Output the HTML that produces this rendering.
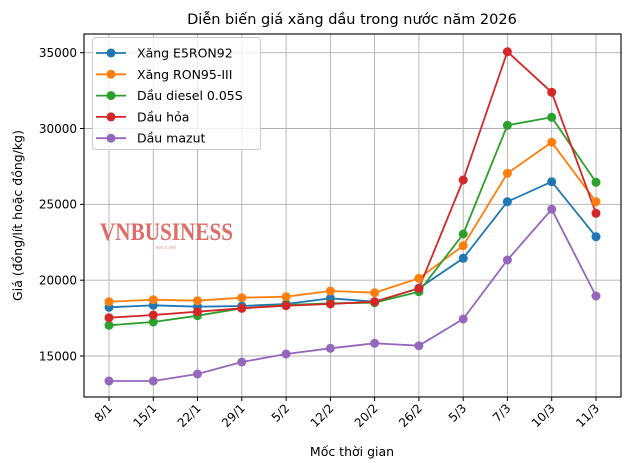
<!DOCTYPE html>
<html><head><meta charset="utf-8"><style>
body{margin:0;background:#fff;}
svg{display:block;font-family:"DejaVu Sans","Liberation Sans",sans-serif;}
</style></head><body>
<svg width="630" height="470" viewBox="0 0 630 470" xmlns="http://www.w3.org/2000/svg">
<rect width="630" height="470" fill="#fff"/>
<g stroke="#b0b0b0" stroke-width="0.9">
<line x1="109" y1="34" x2="109" y2="397"/><line x1="153.3" y1="34" x2="153.3" y2="397"/><line x1="197.5" y1="34" x2="197.5" y2="397"/><line x1="241.8" y1="34" x2="241.8" y2="397"/><line x1="286.1" y1="34" x2="286.1" y2="397"/><line x1="330.4" y1="34" x2="330.4" y2="397"/><line x1="374.6" y1="34" x2="374.6" y2="397"/><line x1="418.9" y1="34" x2="418.9" y2="397"/><line x1="463.2" y1="34" x2="463.2" y2="397"/><line x1="507.4" y1="34" x2="507.4" y2="397"/><line x1="551.7" y1="34" x2="551.7" y2="397"/><line x1="596" y1="34" x2="596" y2="397"/>
<line x1="84" y1="356" x2="621" y2="356"/><line x1="84" y1="280.2" x2="621" y2="280.2"/><line x1="84" y1="204.3" x2="621" y2="204.3"/><line x1="84" y1="128.5" x2="621" y2="128.5"/><line x1="84" y1="52.7" x2="621" y2="52.7"/>
</g>
<text x="100" y="240" font-family="Liberation Serif,serif" font-weight="bold" font-size="25" fill="#d9534f" opacity="0.85" textLength="133" lengthAdjust="spacingAndGlyphs">VNBUSINESS</text>
<text x="166" y="249" font-family="Liberation Serif,serif" font-size="4" fill="#d9534f" text-anchor="middle" opacity="0.7">SINCE 1993</text>
<g fill="none" stroke-width="1.8">
<polyline stroke="#1f77b4" points="109,307.3 153.3,305.3 197.5,306.7 241.8,306 286.1,304 330.4,298.3 374.6,301.7 418.9,288.3 463.2,258.3 507.4,201.7 551.7,181.7 596,236.7"/>
<polyline stroke="#ff7f0e" points="109,301.7 153.3,299.7 197.5,300.7 241.8,297.7 286.1,296.7 330.4,291 374.6,292.7 418.9,278.3 463.2,245.7 507.4,173.3 551.7,142.3 596,201.7"/>
<polyline stroke="#2ca02c" points="109,325.3 153.3,322 197.5,315.7 241.8,308.3 286.1,305 330.4,303.3 374.6,302.7 418.9,291.7 463.2,234 507.4,125.3 551.7,117.3 596,182.3"/>
<polyline stroke="#d62728" points="109,317.7 153.3,315 197.5,311.7 241.8,308.3 286.1,305.7 330.4,304 374.6,301.7 418.9,288.3 463.2,180 507.4,51.7 551.7,92.3 596,213.3"/>
<polyline stroke="#9467bd" points="109,381 153.3,381 197.5,374 241.8,362 286.1,354 330.4,348.3 374.6,343.3 418.9,345.7 463.2,319 507.4,260 551.7,209.3 596,296"/>
</g>
<g fill="#1f77b4"><circle cx="109" cy="307.3" r="4.5"/><circle cx="153.3" cy="305.3" r="4.5"/><circle cx="197.5" cy="306.7" r="4.5"/><circle cx="241.8" cy="306" r="4.5"/><circle cx="286.1" cy="304" r="4.5"/><circle cx="330.4" cy="298.3" r="4.5"/><circle cx="374.6" cy="301.7" r="4.5"/><circle cx="418.9" cy="288.3" r="4.5"/><circle cx="463.2" cy="258.3" r="4.5"/><circle cx="507.4" cy="201.7" r="4.5"/><circle cx="551.7" cy="181.7" r="4.5"/><circle cx="596" cy="236.7" r="4.5"/></g>
<g fill="#ff7f0e"><circle cx="109" cy="301.7" r="4.5"/><circle cx="153.3" cy="299.7" r="4.5"/><circle cx="197.5" cy="300.7" r="4.5"/><circle cx="241.8" cy="297.7" r="4.5"/><circle cx="286.1" cy="296.7" r="4.5"/><circle cx="330.4" cy="291" r="4.5"/><circle cx="374.6" cy="292.7" r="4.5"/><circle cx="418.9" cy="278.3" r="4.5"/><circle cx="463.2" cy="245.7" r="4.5"/><circle cx="507.4" cy="173.3" r="4.5"/><circle cx="551.7" cy="142.3" r="4.5"/><circle cx="596" cy="201.7" r="4.5"/></g>
<g fill="#2ca02c"><circle cx="109" cy="325.3" r="4.5"/><circle cx="153.3" cy="322" r="4.5"/><circle cx="197.5" cy="315.7" r="4.5"/><circle cx="241.8" cy="308.3" r="4.5"/><circle cx="286.1" cy="305" r="4.5"/><circle cx="330.4" cy="303.3" r="4.5"/><circle cx="374.6" cy="302.7" r="4.5"/><circle cx="418.9" cy="291.7" r="4.5"/><circle cx="463.2" cy="234" r="4.5"/><circle cx="507.4" cy="125.3" r="4.5"/><circle cx="551.7" cy="117.3" r="4.5"/><circle cx="596" cy="182.3" r="4.5"/></g>
<g fill="#d62728"><circle cx="109" cy="317.7" r="4.5"/><circle cx="153.3" cy="315" r="4.5"/><circle cx="197.5" cy="311.7" r="4.5"/><circle cx="241.8" cy="308.3" r="4.5"/><circle cx="286.1" cy="305.7" r="4.5"/><circle cx="330.4" cy="304" r="4.5"/><circle cx="374.6" cy="301.7" r="4.5"/><circle cx="418.9" cy="288.3" r="4.5"/><circle cx="463.2" cy="180" r="4.5"/><circle cx="507.4" cy="51.7" r="4.5"/><circle cx="551.7" cy="92.3" r="4.5"/><circle cx="596" cy="213.3" r="4.5"/></g>
<g fill="#9467bd"><circle cx="109" cy="381" r="4.5"/><circle cx="153.3" cy="381" r="4.5"/><circle cx="197.5" cy="374" r="4.5"/><circle cx="241.8" cy="362" r="4.5"/><circle cx="286.1" cy="354" r="4.5"/><circle cx="330.4" cy="348.3" r="4.5"/><circle cx="374.6" cy="343.3" r="4.5"/><circle cx="418.9" cy="345.7" r="4.5"/><circle cx="463.2" cy="319" r="4.5"/><circle cx="507.4" cy="260" r="4.5"/><circle cx="551.7" cy="209.3" r="4.5"/><circle cx="596" cy="296" r="4.5"/></g>
<rect x="84" y="34" width="537" height="363" fill="none" stroke="#000" stroke-width="1.1"/>
<g stroke="#000" stroke-width="1">
<line x1="80" y1="356" x2="84" y2="356"/><line x1="80" y1="280.2" x2="84" y2="280.2"/><line x1="80" y1="204.3" x2="84" y2="204.3"/><line x1="80" y1="128.5" x2="84" y2="128.5"/><line x1="80" y1="52.7" x2="84" y2="52.7"/>
<line x1="109" y1="397" x2="109" y2="401"/><line x1="153.3" y1="397" x2="153.3" y2="401"/><line x1="197.5" y1="397" x2="197.5" y2="401"/><line x1="241.8" y1="397" x2="241.8" y2="401"/><line x1="286.1" y1="397" x2="286.1" y2="401"/><line x1="330.4" y1="397" x2="330.4" y2="401"/><line x1="374.6" y1="397" x2="374.6" y2="401"/><line x1="418.9" y1="397" x2="418.9" y2="401"/><line x1="463.2" y1="397" x2="463.2" y2="401"/><line x1="507.4" y1="397" x2="507.4" y2="401"/><line x1="551.7" y1="397" x2="551.7" y2="401"/><line x1="596" y1="397" x2="596" y2="401"/>
</g>
<g font-size="12" text-anchor="end" fill="#000">
<text x="77" y="360.5">15000</text><text x="77" y="284.5">20000</text><text x="77" y="208.5">25000</text><text x="77" y="132.8">30000</text><text x="77" y="57">35000</text>
</g>
<g font-size="12" text-anchor="end" fill="#000">
<text transform="translate(113,409) rotate(-45)">8/1</text>
<text transform="translate(157.3,409) rotate(-45)">15/1</text>
<text transform="translate(201.5,409) rotate(-45)">22/1</text>
<text transform="translate(245.8,409) rotate(-45)">29/1</text>
<text transform="translate(290.1,409) rotate(-45)">5/2</text>
<text transform="translate(334.4,409) rotate(-45)">12/2</text>
<text transform="translate(378.6,409) rotate(-45)">20/2</text>
<text transform="translate(422.9,409) rotate(-45)">26/2</text>
<text transform="translate(467.2,409) rotate(-45)">5/3</text>
<text transform="translate(511.4,409) rotate(-45)">7/3</text>
<text transform="translate(555.7,409) rotate(-45)">10/3</text>
<text transform="translate(600,409) rotate(-45)">11/3</text>
</g>
<text x="352" y="24" font-size="14.5" text-anchor="middle">Diễn biến giá xăng dầu trong nước năm 2026</text>
<text x="352" y="456" font-size="12.5" text-anchor="middle">Mốc thời gian</text>
<text transform="translate(22,215.5) rotate(-90)" font-size="12.5" text-anchor="middle">Giá (đồng/lít hoặc đồng/kg)</text>
<rect x="92.5" y="37.5" width="168" height="112" rx="3" fill="#fff" fill-opacity="0.8" stroke="#ccc" stroke-width="1"/>
<g stroke-width="1.8">
<line x1="96" y1="53" x2="126" y2="53" stroke="#1f77b4"/><circle cx="111" cy="53" r="4.5" fill="#1f77b4"/>
<line x1="96" y1="74.3" x2="126" y2="74.3" stroke="#ff7f0e"/><circle cx="111" cy="74.3" r="4.5" fill="#ff7f0e"/>
<line x1="96" y1="95.6" x2="126" y2="95.6" stroke="#2ca02c"/><circle cx="111" cy="95.6" r="4.5" fill="#2ca02c"/>
<line x1="96" y1="116.9" x2="126" y2="116.9" stroke="#d62728"/><circle cx="111" cy="116.9" r="4.5" fill="#d62728"/>
<line x1="96" y1="138.2" x2="126" y2="138.2" stroke="#9467bd"/><circle cx="111" cy="138.2" r="4.5" fill="#9467bd"/>
</g>
<g font-size="12.5">
<text x="137" y="57.5">Xăng E5RON92</text>
<text x="137" y="78.8">Xăng RON95-III</text>
<text x="137" y="100.1">Dầu diesel 0.05S</text>
<text x="137" y="121.4">Dầu hỏa</text>
<text x="137" y="142.7">Dầu mazut</text>
</g>
</svg>
</body></html>
